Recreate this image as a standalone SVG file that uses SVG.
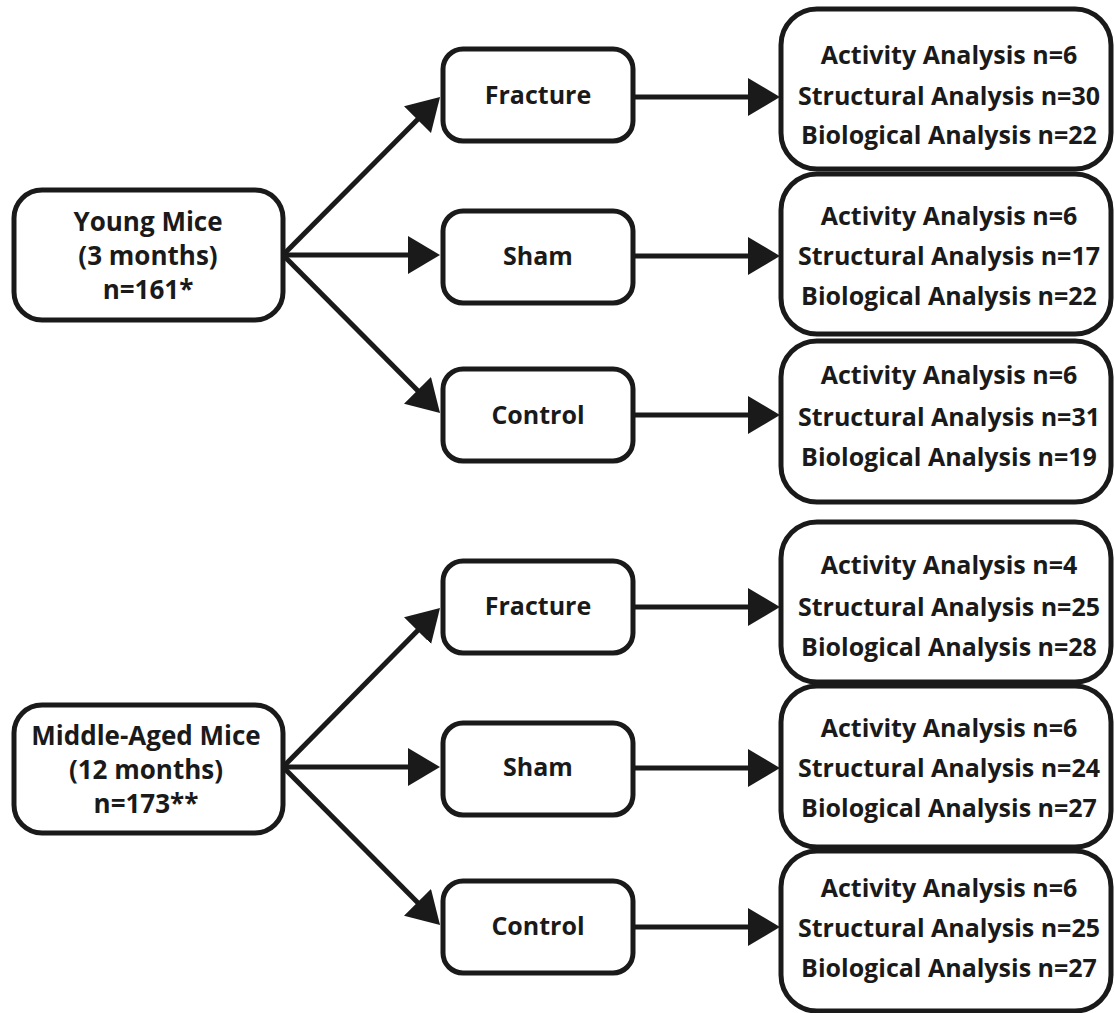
<svg xmlns="http://www.w3.org/2000/svg" width="1114" height="1013" viewBox="0 0 1114 1013">
<style>
.box{fill:#fff;stroke:#1a1a1a;stroke-width:5}
.t{font-family:"Open Sans","Noto Sans",sans-serif;font-weight:bold;font-size:25px;fill:#1a1a1a;text-anchor:middle}
.l{font-size:26px}
.c{fill:none;stroke:#1a1a1a;stroke-width:5}
</style>
<defs>
<marker id="ah" markerUnits="userSpaceOnUse" markerWidth="34" markerHeight="40" refX="22" refY="19" orient="auto" viewBox="0 0 34 40">
<path d="M0,0 L32,19 L0,38 z" fill="#1a1a1a"/>
</marker>
</defs>
<rect width="1114" height="1013" fill="#fff"/>
<g id="connectors">
<path class="c" d="M283,255 L433,104" marker-end="url(#ah)"/>
<path class="c" d="M283,255 L430,255" marker-end="url(#ah)"/>
<path class="c" d="M283,255 L433,406" marker-end="url(#ah)"/>
<path class="c" d="M283,767 L433,615" marker-end="url(#ah)"/>
<path class="c" d="M283,767 L430,767" marker-end="url(#ah)"/>
<path class="c" d="M283,767 L433,918" marker-end="url(#ah)"/>
<path class="c" d="M633,97 L770,97" marker-end="url(#ah)"/>
<path class="c" d="M633,256 L770,256" marker-end="url(#ah)"/>
<path class="c" d="M633,415 L770,415" marker-end="url(#ah)"/>
<path class="c" d="M633,607 L770,607" marker-end="url(#ah)"/>
<path class="c" d="M633,768 L770,768" marker-end="url(#ah)"/>
<path class="c" d="M633,927 L770,927" marker-end="url(#ah)"/>
</g>
<g id="young">
<rect class="box" x="14" y="190" width="269" height="130" rx="28"/>
<text class="t l" x="148" y="231">Young Mice</text>
<text class="t l" x="148" y="265">(3 months)</text>
<text class="t l" x="148" y="299">n=161*</text>
</g>
<g id="middle">
<rect class="box" x="14" y="705" width="269" height="128" rx="28"/>
<text class="t l" x="146" y="745">Middle-Aged Mice</text>
<text class="t l" x="146" y="779">(12 months)</text>
<text class="t l" x="146" y="813">n=173**</text>
</g>
<g id="y-fracture">
<rect class="box" x="443" y="49" width="190" height="92" rx="20"/>
<text class="t" x="538" y="104">Fracture</text>
</g>
<g id="y-sham">
<rect class="box" x="443" y="211" width="190" height="92" rx="20"/>
<text class="t" x="538" y="265">Sham</text>
</g>
<g id="y-control">
<rect class="box" x="443" y="369" width="190" height="92" rx="20"/>
<text class="t" x="538" y="424">Control</text>
</g>
<g id="m-fracture">
<rect class="box" x="443" y="561" width="190" height="92" rx="20"/>
<text class="t" x="538" y="615">Fracture</text>
</g>
<g id="m-sham">
<rect class="box" x="443" y="723" width="190" height="92" rx="20"/>
<text class="t" x="538" y="776">Sham</text>
</g>
<g id="m-control">
<rect class="box" x="443" y="881" width="190" height="92" rx="20"/>
<text class="t" x="538" y="935">Control</text>
</g>
<g id="y-fracture-res">
<rect class="box" x="781" y="9" width="330" height="160" rx="36"/>
<text class="t" x="949" y="64">Activity Analysis n=6</text>
<text class="t" x="949" y="105">Structural Analysis n=30</text>
<text class="t" x="949" y="144">Biological Analysis n=22</text>
</g>
<g id="y-sham-res">
<rect class="box" x="781" y="174" width="330" height="160" rx="36"/>
<text class="t" x="949" y="225">Activity Analysis n=6</text>
<text class="t" x="949" y="265">Structural Analysis n=17</text>
<text class="t" x="949" y="305">Biological Analysis n=22</text>
</g>
<g id="y-control-res">
<rect class="box" x="781" y="341" width="330" height="161" rx="36"/>
<text class="t" x="949" y="384">Activity Analysis n=6</text>
<text class="t" x="949" y="426">Structural Analysis n=31</text>
<text class="t" x="949" y="466">Biological Analysis n=19</text>
</g>
<g id="m-fracture-res">
<rect class="box" x="781" y="522" width="330" height="160" rx="36"/>
<text class="t" x="949" y="574">Activity Analysis n=4</text>
<text class="t" x="949" y="616">Structural Analysis n=25</text>
<text class="t" x="949" y="656">Biological Analysis n=28</text>
</g>
<g id="m-sham-res">
<rect class="box" x="781" y="686" width="330" height="161" rx="36"/>
<text class="t" x="949" y="737">Activity Analysis n=6</text>
<text class="t" x="949" y="777">Structural Analysis n=24</text>
<text class="t" x="949" y="817">Biological Analysis n=27</text>
</g>
<g id="m-control-res">
<rect class="box" x="781" y="851" width="330" height="160" rx="36"/>
<text class="t" x="949" y="897">Activity Analysis n=6</text>
<text class="t" x="949" y="937">Structural Analysis n=25</text>
<text class="t" x="949" y="977">Biological Analysis n=27</text>
</g>
</svg>
